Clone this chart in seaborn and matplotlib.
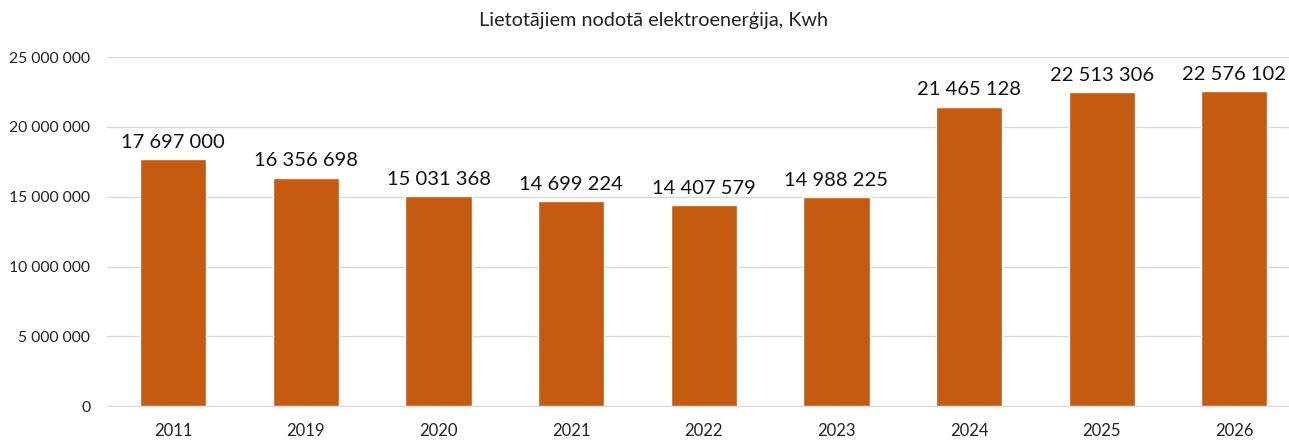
import matplotlib
matplotlib.use("Agg")
import matplotlib.pyplot as plt
import seaborn as sns
import pandas as pd

years = ["2011", "2019", "2020", "2021", "2022", "2023", "2024", "2025", "2026"]
energy = [17697000, 16356698, 15031368, 14699224, 14407579, 14988225, 21465128, 22513306, 22576102]
y_ticks = [0, 5000000, 10000000, 15000000, 20000000, 25000000]


def fmt(v):
    return f"{v:,}".replace(",", " ")


def main():
    df = pd.DataFrame({"Gads": years, "kWh": energy})

    sns.set_style("white")
    plt.rcParams["font.family"] = ["Lato", "DejaVu Sans"]

    fig = plt.figure(figsize=(12.89, 4.40), dpi=100)
    ax = fig.add_axes([0.083, 0.077, 0.926, 0.793])

    sns.barplot(data=df, x="Gads", y="kWh", color="#C55A11", width=0.5,
                saturation=1, ax=ax, zorder=3)

    ax.set_ylim(0, 25000000)
    ax.set_xlim(-0.5, len(years) - 0.5)
    ax.set_yticks(y_ticks)
    ax.set_yticklabels([fmt(t) for t in y_ticks], fontsize=11.3, color="#222222")
    ax.tick_params(axis="x", labelsize=12, colors="#222222", length=0, pad=12)
    ax.tick_params(axis="y", length=0, pad=12)
    ax.grid(axis="y", color="#d9d9d9", linewidth=1, zorder=0)
    for s in ["top", "right", "left"]:
        ax.spines[s].set_visible(False)
    ax.spines["bottom"].set_color("#d9d9d9")
    ax.set_xlabel("")
    ax.set_ylabel("")

    for i, v in enumerate(energy):
        ax.annotate(fmt(v), (i, v), xytext=(0, 6), textcoords="offset points",
                    ha="center", va="bottom", fontsize=14.5, color="#111111")

    fig.text(0.507, 0.953, "Lietotājiem nodotā elektroenerģija, Kwh",
             ha="center", va="center", fontsize=14.3, color="#222222")

    fig.savefig("out.png", dpi=100)


if __name__ == "__main__":
    main()
